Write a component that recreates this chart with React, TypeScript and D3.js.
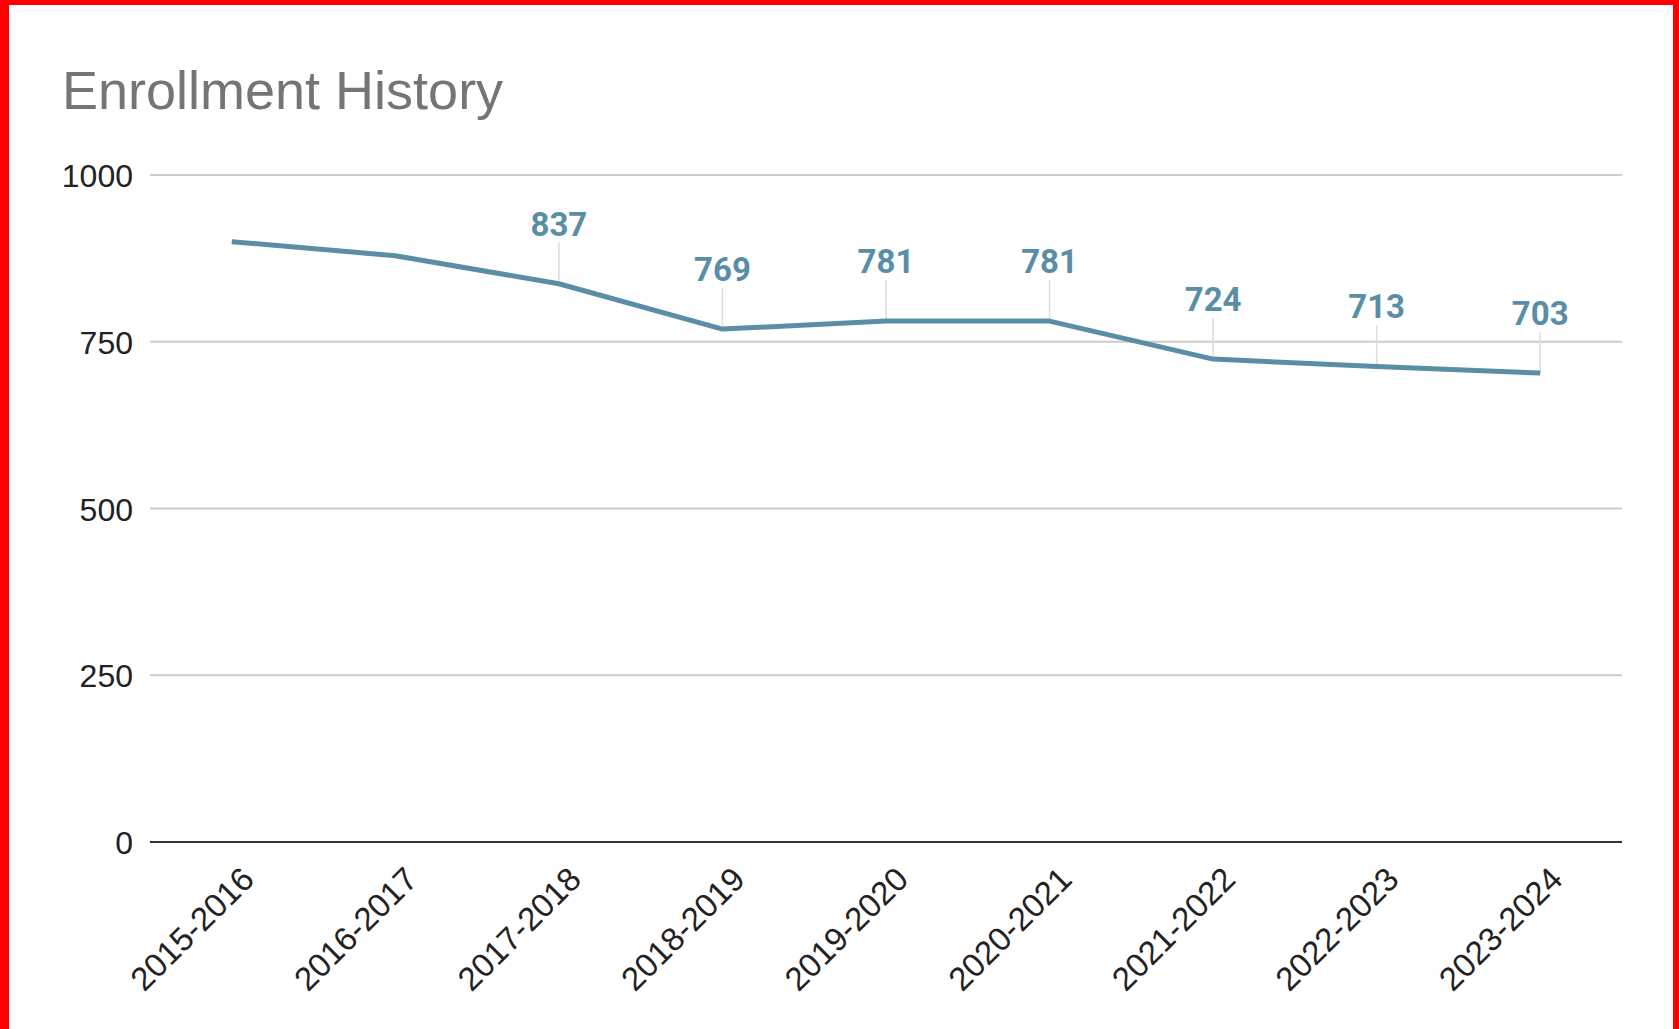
import { useEffect, useRef } from "react";
import * as d3 from "d3";

// school years along the x axis
const years = [
  "2015-2016",
  "2016-2017",
  "2017-2018",
  "2018-2019",
  "2019-2020",
  "2020-2021",
  "2021-2022",
  "2022-2023",
  "2023-2024",
];

// enrollment per year (first two read off the line, not labelled in the source)
const enrollment = [900, 879, 837, 769, 781, 781, 724, 713, 703];

// which points carry a data label
const showLabel = [false, false, true, true, true, true, true, true, true];

const yTicks = [0, 250, 500, 750, 1000];

const W = 1679;
const H = 1029;
const lineColor = "#5a8ea7";

export default function App() {
  const svgRef = useRef<SVGSVGElement>(null);

  useEffect(() => {
    if (!svgRef.current) return;
    const svg = d3.select(svgRef.current);
    svg.selectAll("*").remove();

    const margin = { top: 175, right: 57, bottom: 187, left: 150 };

    // red frame, white page
    svg.append("rect").attr("width", W).attr("height", H).attr("fill", "#ff0000");
    svg.append("rect")
      .attr("x", 9)
      .attr("y", 5)
      .attr("width", W - 9 - 6)
      .attr("height", H)
      .attr("fill", "#ffffff");

    // title
    svg.append("text")
      .attr("x", 62)
      .attr("y", 109)
      .attr("fill", "#757575")
      .attr("font-size", "54px")
      .attr("font-family", "Liberation Sans, Arial, sans-serif")
      .text("Enrollment History");

    const x = d3.scaleBand()
      .domain(years)
      .range([margin.left, W - margin.right]);

    const y = d3.scaleLinear()
      .domain([0, 1000])
      .range([H - margin.bottom, margin.top]);

    const cx = (d: string) => (x(d) || 0) + x.bandwidth() / 2;

    // grid lines
    svg.selectAll("line.grid")
      .data(yTicks.filter((t) => t !== 0))
      .join("line")
      .attr("class", "grid")
      .attr("x1", margin.left)
      .attr("x2", W - margin.right)
      .attr("y1", (d) => y(d))
      .attr("y2", (d) => y(d))
      .attr("stroke", "#cccccc")
      .attr("stroke-width", 2);

    // y tick labels
    svg.selectAll("text.ytick")
      .data(yTicks)
      .join("text")
      .attr("class", "ytick")
      .attr("x", margin.left - 17)
      .attr("y", (d) => y(d) + 12)
      .attr("text-anchor", "end")
      .attr("fill", "#222222")
      .attr("font-size", "32px")
      .attr("font-family", "Liberation Sans, Arial, sans-serif")
      .text((d) => d);

    // baseline
    svg.append("line")
      .attr("x1", margin.left)
      .attr("x2", W - margin.right)
      .attr("y1", y(0))
      .attr("y2", y(0))
      .attr("stroke", "#333333")
      .attr("stroke-width", 2);

    // x labels, rotated
    svg.selectAll("text.xtick")
      .data(years)
      .join("text")
      .attr("class", "xtick")
      .attr("transform", (d) => `translate(${cx(d) + 16},${y(0) + 31}) rotate(-45)`)
      .attr("dy", "0.35em")
      .attr("text-anchor", "end")
      .attr("fill", "#222222")
      .attr("font-size", "33px")
      .attr("font-family", "Liberation Sans, Arial, sans-serif")
      .text((d) => d);

    const points = years.map((yr, i) => ({ yr, v: enrollment[i], lab: showLabel[i] }));

    // leader lines
    svg.selectAll("line.leader")
      .data(points.filter((p) => p.lab))
      .join("line")
      .attr("class", "leader")
      .attr("x1", (d) => cx(d.yr))
      .attr("x2", (d) => cx(d.yr))
      .attr("y1", (d) => y(d.v) - 41)
      .attr("y2", (d) => y(d.v))
      .attr("stroke", "#dddddd")
      .attr("stroke-width", 1.5);

    // series line
    const line = d3.line<{ yr: string; v: number }>()
      .x((d) => cx(d.yr))
      .y((d) => y(d.v));

    svg.append("path")
      .datum(points)
      .attr("d", line)
      .attr("fill", "none")
      .attr("stroke", lineColor)
      .attr("stroke-width", 5)
      .attr("stroke-linejoin", "round");

    // data labels
    svg.selectAll("text.val")
      .data(points.filter((p) => p.lab))
      .join("text")
      .attr("class", "val")
      .attr("x", (d) => cx(d.yr))
      .attr("y", (d) => y(d.v) - 48)
      .attr("text-anchor", "middle")
      .attr("fill", lineColor)
      .attr("font-size", "33px")
      .attr("font-weight", "700")
      .attr("font-family", "Roboto, sans-serif")
      .text((d) => d.v);
  }, []);

  return (
    <svg
      ref={svgRef}
      width={W}
      height={H}
      style={{ position: "absolute", left: 0, top: 0, display: "block" }}
    />
  );
}
